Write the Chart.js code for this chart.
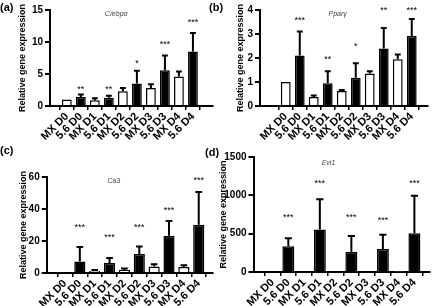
<!DOCTYPE html>
<html><head><meta charset="utf-8">
<script src="https://cdn.jsdelivr.net/npm/chart.js@4.4.1/dist/chart.umd.min.js"></script>
<style>
html,body{margin:0;padding:0;background:#fff;width:432px;height:306px;overflow:hidden;position:relative;}
canvas{position:absolute;}
.pl{position:absolute;font:bold 11px "Liberation Sans",Arial,sans-serif;color:#000;line-height:12px;}
</style></head><body>
<canvas id="ca" width="216" height="153" style="left:0;top:0"></canvas>
<canvas id="cb" width="216" height="153" style="left:216px;top:0"></canvas>
<canvas id="cc" width="216" height="153" style="left:0;top:153px"></canvas>
<canvas id="cd" width="216" height="163" style="left:216px;top:143px"></canvas>
<div class="pl" style="left:0;top:1px">(a)</div>
<div class="pl" style="left:209px;top:1px">(b)</div>
<div class="pl" style="left:0;top:144px">(c)</div>
<div class="pl" style="left:205px;top:146px">(d)</div>
<script>
const FONT = '"Liberation Sans", Arial, Helvetica, sans-serif';
const categories = ['MX D0','5.6 D0','MX D1','5.6 D1','MX D2','5.6 D2','MX D3','5.6 D3','MX D4','5.6 D4'];
const yTitle = 'Relative gene expression';

// (a) C/ebpα
const cebpaMean = [1.0, 1.4, 0.9, 1.3, 2.3, 3.5, 2.8, 5.6, 4.6, 8.5];
const cebpaSD   = [0, 0.4, 0.3, 0.3, 0.5, 2.0, 0.6, 2.3, 0.8, 2.9];
const cebpaStars = ['', '**', '', '**', '', '*', '', '***', '', '***'];
const cebpaStarLevel = [null, 2.9, null, 2.9, null, 7.0, null, 10.0, null, 13.4];
const cebpaTicks = [0, 5, 10, 15];

// (b) Pparγ
const ppargMean = [1.0, 2.1, 0.38, 0.95, 0.62, 1.18, 1.35, 2.4, 1.95, 2.92];
const ppargSD   = [0, 1.0, 0.06, 0.5, 0.05, 0.6, 0.1, 0.85, 0.2, 0.7];
const ppargStars = ['', '***', '', '**', '', '*', '', '**', '', '***'];
const ppargStarLevel = [null, 3.65, null, 2.05, null, 2.6, null, 4.1, null, 4.1];
const ppargTicks = [0, 1, 2, 3, 4];

// (c) Ca3
const ca3Mean = [0.6, 7.2, 1.2, 6.2, 1.9, 11.9, 4.1, 23.3, 3.7, 30.2];
const ca3SD   = [0, 9.1, 0.6, 3.1, 0.9, 4.7, 1.4, 9.2, 1.2, 20.5];
const ca3Stars = ['', '***', '', '***', '', '***', '', '***', '', '***'];
const ca3StarLevel = [null, 30.2, null, 24, null, 30.2, null, 40.6, null, 59.4];
const ca3Ticks = [0, 20, 40, 60];

// (d) Evi1
const evi1Mean = [0, 335, 0, 555, 0, 265, 0, 300, 8, 505];
const evi1SD   = [0, 105, 0, 395, 0, 205, 0, 185, 0, 490];
const evi1Stars = ['', '***', '', '***', '', '***', '', '***', '', '***'];
const evi1StarLevel = [null, 743, null, 1188, null, 743, null, 700, null, 1188];
const evi1Ticks = [0, 500, 1000, 1500];

const barDecor = {
  id: 'barDecor',
  afterDatasetsDraw(chart, args, opts) {
    const ds = chart.data.datasets[0];
    const meta = chart.getDatasetMeta(0);
    const y = chart.scales.y;
    const ctx = chart.ctx;
    ctx.save();
    ctx.strokeStyle = '#000';
    ctx.lineWidth = 2;
    meta.data.forEach((bar, i) => {
      const sd = ds.errors[i];
      if (!sd) return;
      const top = y.getPixelForValue(ds.data[i].y + sd);
      const half = bar.width * 0.3;
      ctx.beginPath();
      ctx.moveTo(bar.x, bar.y);
      ctx.lineTo(bar.x, top);
      ctx.moveTo(bar.x - half, top);
      ctx.lineTo(bar.x + half, top);
      ctx.stroke();
    });
    ctx.fillStyle = '#000';
    ctx.font = '9px ' + FONT;
    ctx.textAlign = 'center';
    ctx.textBaseline = 'alphabetic';
    ds.stars.forEach((s, i) => {
      if (!s) return;
      const py = y.getPixelForValue(ds.starLevels[i]);
      ctx.fillText(s, meta.data[i].x, py + 5);
    });
    const a = chart.chartArea;
    ctx.font = (opts.italic ? 'italic ' : '') + '7px ' + FONT;
    ctx.fillStyle = '#444';
    ctx.textBaseline = 'middle';
    ctx.fillText(opts.text, a.left + (a.right - a.left) * opts.xFrac, a.top + opts.dy);
    ctx.restore();
  }
};

function makeChart(id, p) {
  const ticks = p.ticks;
  return new Chart(document.getElementById(id), {
    type: 'bar',
    data: {
      labels: categories,
      datasets: [{
        data: p.mean.map((v, i) => ({x: i, y: v})),
        errors: p.sd,
        stars: p.stars,
        starLevels: p.levels,
        backgroundColor: categories.map(c => c.startsWith('MX') ? '#fff' : '#000'),
        borderColor: '#000',
        borderWidth: 1.5,
        barPercentage: p.barPct,
        categoryPercentage: 1
      }]
    },
    options: {
      responsive: false,
      animation: false,
      devicePixelRatio: 1,
      layout: {padding: p.pad},
      plugins: {
        legend: {display: false},
        tooltip: {enabled: false},
        barDecor: {text: p.title, italic: p.italic, xFrac: p.xFrac, dy: p.dy}
      },
      scales: {
        x: {
          type: 'linear',
          min: p.xMin, max: p.xMax,
          afterBuildTicks: s => { s.ticks = categories.map((c, i) => ({value: i})); },
          afterFit: s => { s.height = p.xHeight; },
          ticks: {
            callback: v => categories[v],
            autoSkip: false, minRotation: 45, maxRotation: 45,
            font: {family: FONT, size: 11, weight: 'bold'}, color: '#000', padding: 0
          },
          grid: {drawOnChartArea: false, drawTicks: true, tickLength: 4, color: '#000', lineWidth: 1.5},
          border: {display: true, color: '#000', width: 2}
        },
        y: {
          min: ticks[0], max: ticks[ticks.length - 1],
          afterBuildTicks: s => { s.ticks = ticks.map(v => ({value: v})); },
          afterFit: s => { s.width = p.yWidth; },
          ticks: {callback: v => String(v), font: {family: FONT, size: 10, weight: 'bold'}, color: '#000', padding: 2},
          grid: {drawOnChartArea: false, drawTicks: true, tickLength: 5, color: '#000', lineWidth: 2},
          border: {display: true, color: '#000', width: 2},
          title: {display: true, text: yTitle, color: '#000',
                  font: {family: FONT, size: 9, weight: 'bold'}, padding: {top: 2, bottom: 0}}
        }
      }
    },
    plugins: [barDecor]
  });
}

makeChart('ca', {mean: cebpaMean, sd: cebpaSD, stars: cebpaStars, levels: cebpaStarLevel, ticks: cebpaTicks,
  title: 'C/ebp\u03b1', italic: true, xFrac: 0.406, dy: 4, xMin: -0.62, xMax: 9.85, barPct: 0.7,
  pad: {left: 15, top: 10, right: 3, bottom: 0}, yWidth: 35, xHeight: 47});
makeChart('cb', {mean: ppargMean, sd: ppargSD, stars: ppargStars, levels: ppargStarLevel, ticks: ppargTicks,
  title: 'Ppar\u03b3', italic: true, xFrac: 0.462, dy: 4, xMin: -1.24, xMax: 9.56, barPct: 0.7,
  pad: {left: 17, top: 10, right: 4, bottom: 0}, yWidth: 27, xHeight: 47});
makeChart('cc', {mean: ca3Mean, sd: ca3SD, stars: ca3Stars, levels: ca3StarLevel, ticks: ca3Ticks,
  title: 'Ca3', italic: false, xFrac: 0.404, dy: 4, xMin: -0.67, xMax: 9.4, barPct: 0.75,
  pad: {left: 16, top: 24, right: 3, bottom: 0}, yWidth: 30.7, xHeight: 33});
makeChart('cd', {mean: evi1Mean, sd: evi1SD, stars: evi1Stars, levels: evi1StarLevel, ticks: evi1Ticks,
  title: 'Evi1', italic: true, xFrac: 0.425, dy: 6, xMin: -0.65, xMax: 9.43, barPct: 0.76,
  pad: {left: 0, top: 14, right: 2, bottom: 0}, yWidth: 37.5, xHeight: 34});
</script>
</body></html>
